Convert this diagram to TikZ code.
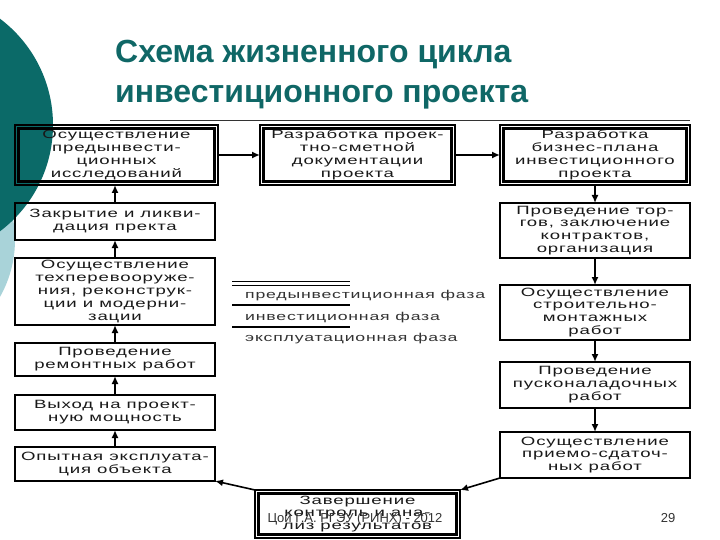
\documentclass[tikz,border=0pt]{standalone}
\usepackage{fontspec}
\setmainfont{Liberation Sans}
\newfontfamily\boxfont[FakeStretch=1.55,LetterSpace=7]{Liberation Sans}
\usetikzlibrary{arrows.meta,calc}
\definecolor{tealc}{HTML}{0B6A68}
\definecolor{lblue}{HTML}{A9D3D9}
\definecolor{titlec}{HTML}{0F6766}
\begin{document}
\begin{tikzpicture}[x=1pt,y=-1pt,
  bx/.style={draw, inner sep=0, outer sep=0, align=center, text=black!90,
    font=\boxfont\fontsize{12}{12.9}\selectfont},
  dbl/.style={bx, line width=1.2},
  inv/.style={bx, line width=2.6},
  expl/.style={bx, line width=1.7},
  arr/.style={line width=1.6, -{Latex[length=8,width=7]}},
  legt/.style={anchor=base west, inner sep=0, text=black!80,
    font=\boxfont\fontsize{11.4}{12}\selectfont}
]
\useasboundingbox (0,0) rectangle (720,540);
\fill[white] (0,0) rectangle (720,540);
\fill[lblue] (-100,240) circle (115);
\fill[tealc] (-80,125) circle (133);

\node[anchor=base west, align=left, inner sep=0, text=titlec,
  font=\bfseries\fontsize{32}{40}\selectfont] (title) at (115,103)
  {Схема жизненного цикла\\инвестиционного проекта};
\draw[line width=0.8, black!80] (110,120) -- (690,120);

% left column
\node[dbl, minimum width=203, minimum height=60] (l1) at (116.5,155)
  {Осуществление\\предынвести-\\ционных\\исследований};
\node[expl, minimum width=200, minimum height=37] (l2) at (115,221.5)
  {Закрытие и ликви-\\дация пректа};
\node[expl, minimum width=200, minimum height=67] (l3) at (115,291.5)
  {Осуществление\\техперевооруже-\\ния, реконструк-\\ции и модерни-\\зации};
\node[expl, minimum width=200, minimum height=33] (l4) at (115,359.5)
  {Проведение\\ремонтных работ};
\node[expl, minimum width=200, minimum height=35] (l5) at (115,412.5)
  {Выход на проект-\\ную мощность};
\node[expl, minimum width=200, minimum height=34] (l6) at (115,464)
  {Опытная эксплуата-\\ция объекта};

% middle top
\node[dbl, minimum width=195, minimum height=60] (mid) at (357.5,155)
  {Разработка проек-\\тно-сметной\\документации\\проекта};

% right column
\node[dbl, minimum width=190, minimum height=60] (r1) at (595,155)
  {Разработка\\бизнес-плана\\инвестиционного\\проекта};
\node[inv, minimum width=190, minimum height=55] (r2) at (595,230.5)
  {Проведение тор-\\гов, заключение\\контрактов,\\организация};
\node[inv, minimum width=190, minimum height=55] (r3) at (595,312.5)
  {Осуществление\\строительно-\\монтажных\\работ};
\node[inv, minimum width=190, minimum height=46] (r4) at (595,385)
  {Проведение\\пусконаладочных\\работ};
\node[inv, minimum width=190, minimum height=46] (r5) at (595,455)
  {Осуществление\\приемо-сдаточ-\\ных работ};

% bottom
\node[dbl, minimum width=205, minimum height=48] (bt) at (357.5,514)
  {Завершение\\контроль и ана-\\лиз результатов};

\foreach \n in {l1,mid,r1,bt}
  \draw[line width=2.2] ($(\n.north west)+(3.5,3.5)$) rectangle ($(\n.south east)+(-3.5,-3.5)$);

% arrows
\draw[arr] (l1.east) -- (mid.west);
\draw[arr] (mid.east) -- (r1.west);
\draw[arr] (r1.south) -- (r2.north);
\draw[arr] (r2.south) -- (r3.north);
\draw[arr] (r3.south) -- (r4.north);
\draw[arr] (r4.south) -- (r5.north);
\draw[arr] (r5.south west) -- (bt.north east);
\draw[arr] (bt.north west) -- (l6.south east);
\draw[arr] (l6.north) -- (l5.south);
\draw[arr] (l5.north) -- (l4.south);
\draw[arr] (l4.north) -- (l3.south);
\draw[arr] (l3.north) -- (l2.south);
\draw[arr] (l2.north) -- (l2.north |- l1.south);

% legend
\draw[line width=1] (232,281) -- (350,281);
\draw[line width=1.4] (232,285.5) -- (350,285.5);
\node[legt] (lg1) at (245,298) {предынвестиционная фаза};
\draw[line width=2.6] (232,305) -- (350,305);
\node[legt] (lg2) at (245,320) {инвестиционная фаза};
\draw[line width=1.4] (232,327) -- (350,327);
\node[legt] (lg3) at (245,341) {эксплуатационная фаза};

% footer
\node[anchor=base, inner sep=0, text=black!80, font=\fontsize{13}{15}\selectfont] (foot) at (355,522)
  {Цой Г.А. РГЭУ (РИНХ) - 2012};
\node[anchor=base, inner sep=0, text=black!80, font=\fontsize{13}{15}\selectfont] (pg) at (668,522) {29};
\end{tikzpicture}
\end{document}
